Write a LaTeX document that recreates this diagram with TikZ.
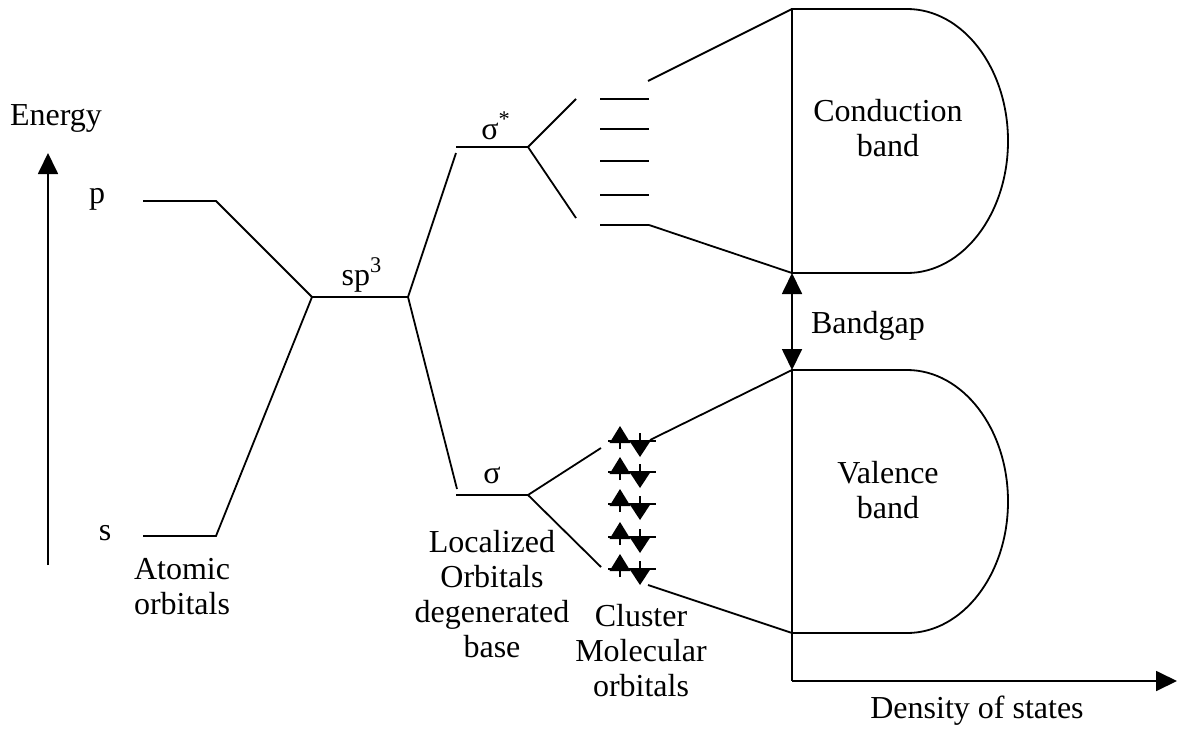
\documentclass[tikz,border=0pt]{standalone}
\usepackage{fontspec}
\setmainfont{Liberation Serif}
\usetikzlibrary{arrows.meta}
\begin{document}
\begin{tikzpicture}[x=0.5pt,y=-0.5pt,
  line width=0.9pt,
  lbl/.style={inner sep=0pt,align=center,font=\fontsize{16}{17.5}\selectfont},
  tip/.style={-{Triangle[length=10.5pt,width=10pt]}},
  band/.style={line width=0.9pt}]
\useasboundingbox (0,0) rectangle (1177,728);

% ---- energy axis ----
\coordinate (eb) at (48,565);
\coordinate (et) at (48,153);
\draw[tip] (eb) -- (et);
\node[lbl] (energy) at (56,118) {Energy};

% ---- atomic levels ----
\coordinate (pL) at (143,201); \coordinate (pR) at (216,201);
\coordinate (sL) at (143,536); \coordinate (sR) at (216,536);
\node[lbl] (plab) at (97,199) {p};
\node[lbl] (slab) at (105,533) {s};
\node[lbl] (atomic) at (182,587) {Atomic\\orbitals};

% ---- hybrid level ----
\coordinate (spL) at (312,297); \coordinate (spR) at (408,297);
\node[lbl] (splab) at (362,275) {sp\textsuperscript{3}};

% ---- bonding / antibonding levels ----
\coordinate (asL) at (456,147); \coordinate (asR) at (528,147);
\coordinate (asIn) at (456,153);
\coordinate (bsL) at (456,495); \coordinate (bsR) at (528,495);
\coordinate (bsIn) at (457,489);
\node[lbl] (aslab) at (496,126) {σ\textsuperscript{*}};
\node[lbl] (bslab) at (492,475) {σ};
\node[lbl] (local) at (492,594) {Localized\\Orbitals\\degenerated\\base};

\draw (pL) -- (pR) -- (spL);
\draw (sL) -- (sR) -- (spL);
\draw (spL) -- (spR);
\draw (spR) -- (asIn);
\draw (spR) -- (bsIn);
\draw (asL) -- (asR);
\draw (bsL) -- (bsR);

% ---- splitting into cluster levels ----
\coordinate (af1) at (576,99); \coordinate (af2) at (576,218);
\coordinate (bf1) at (601,448); \coordinate (bf2) at (601,567);
\draw (af1) -- (asR) -- (af2);
\draw (bf1) -- (bsR) -- (bf2);

% empty cluster levels
\foreach \y [count=\i] in {99,129,161,195,225}{
  \coordinate (cL\i) at (600,\y);
  \coordinate (cR\i) at (649,\y);
  \draw (cL\i) -- (cR\i);
}

% filled cluster levels with electron pairs
\foreach \y [count=\i] in {441,472,504,537,569}{
  \coordinate (vL\i) at (608,\y);
  \coordinate (vR\i) at (656,\y);
  \draw (vL\i) -- (vR\i);
  \draw (620,\y+8) -- (620,\y);
  \fill (620,\y-15) -- (609.5,\y+2) -- (630.5,\y+2) -- cycle;
  \draw (640,\y-8) -- (640,\y);
  \fill (629.5,\y) -- (650.5,\y) -- (640,\y+16) -- cycle;
}
\node[lbl] (cluster) at (641,651) {Cluster\\Molecular\\orbitals};

% ---- bands ----
\coordinate (cbT) at (792,9); \coordinate (cbB) at (792,273);
\coordinate (vbT) at (792,370); \coordinate (vbB) at (792,633);
\coordinate (cbTop) at (648,81);
\coordinate (vbTop) at (650,440); \coordinate (vbBot) at (648,585);

\draw (cbTop) -- (cbT);
\draw (cR5) -- (cbB);
\draw (vbTop) -- (vbT);
\draw (vbBot) -- (vbB);

\draw[band] (cbT) -- (907,9) arc[start angle=-90,end angle=90,x radius=101,y radius=132] -- (cbB) -- cycle;
\draw[band] (vbT) -- (907,370) arc[start angle=-90,end angle=90,x radius=101,y radius=131.5] -- (vbB) -- cycle;
\node[lbl] (cband) at (888,128) {Conduction\\band};
\node[lbl] (vband) at (888,490) {Valence\\band};

% band gap
\draw[{Triangle[length=10.5pt,width=10pt]}-{Triangle[length=10.5pt,width=10pt]}] (cbB) -- (vbT);
\node[lbl] (gap) at (868,326) {Bandgap};

% density-of-states axis
\coordinate (dO) at (792,681);
\coordinate (dE) at (1177,681);
\draw (vbB) -- (dO);
\draw[tip] (dO) -- (dE);
\node[lbl] (dos) at (977,711) {Density of states};
\end{tikzpicture}
\end{document}
